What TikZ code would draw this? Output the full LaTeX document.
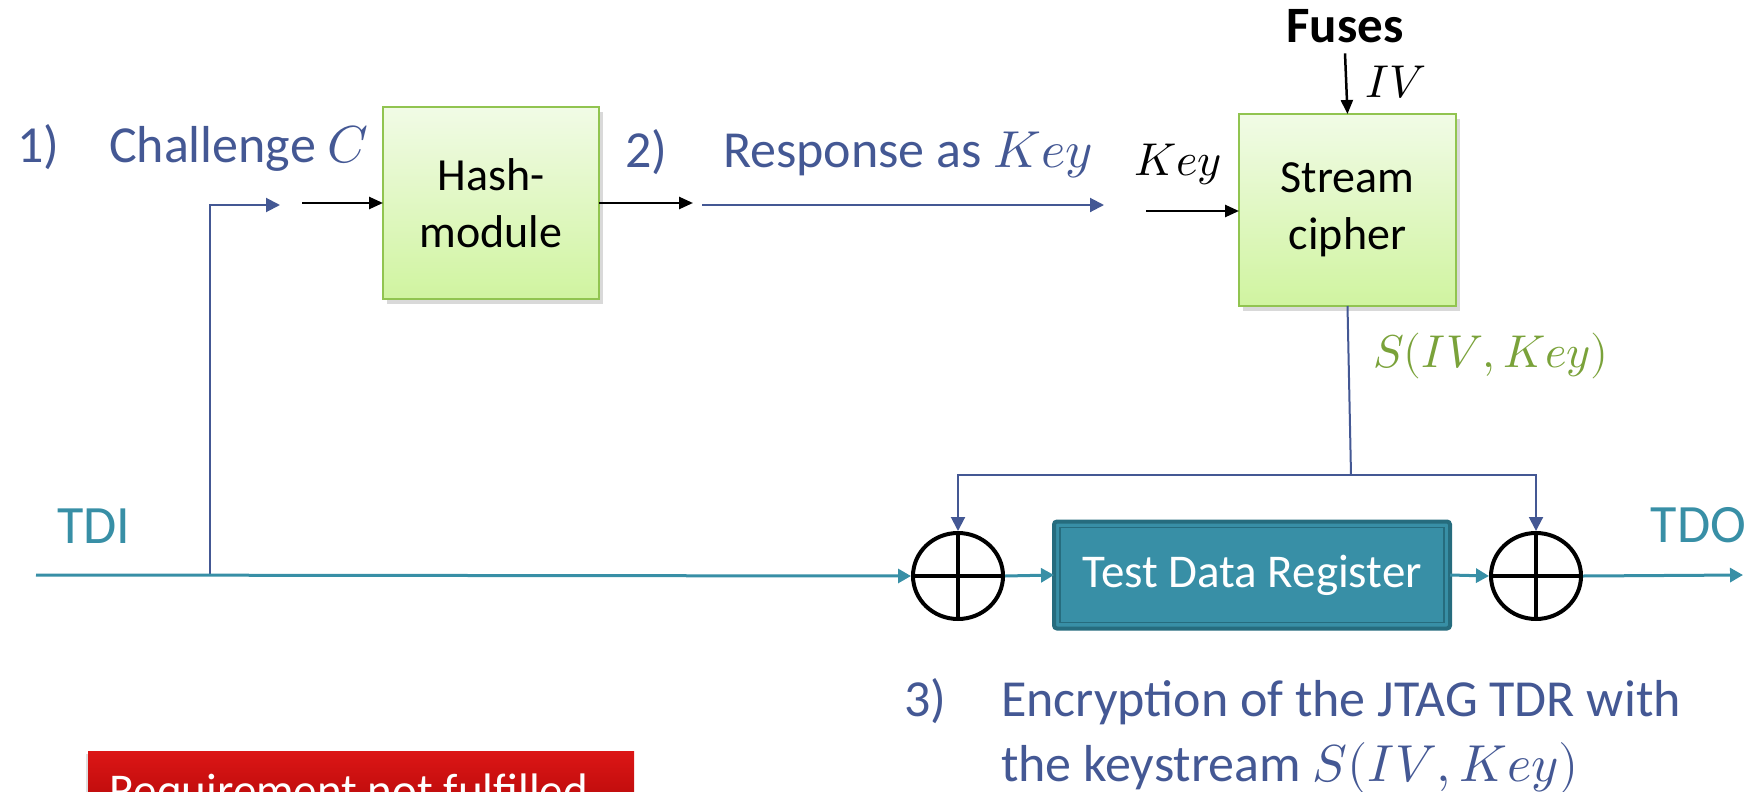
\documentclass[tikz,border=0pt]{standalone}
\usepackage{fontspec}
\usepackage{unicode-math}
\setmainfont{Carlito}
\setmathfont{Latin Modern Math}
\usetikzlibrary{arrows.meta,shapes.geometric,shadows}
\definecolor{tblue}{RGB}{68,88,148}
\definecolor{tealc}{RGB}{56,143,166}
\definecolor{tdrborder}{RGB}{38,108,126}
\definecolor{sgreen}{RGB}{122,162,58}
\definecolor{boxtop}{RGB}{241,251,230}
\definecolor{boxbot}{RGB}{208,244,160}
\definecolor{boxline}{RGB}{145,196,80}
\definecolor{redtop}{RGB}{220,22,22}
\definecolor{redbot}{RGB}{170,5,5}
\begin{document}
\begin{tikzpicture}[x=1pt,y=-1pt,
  every node/.style={inner sep=0pt, outer sep=0pt},
  lbl/.style={font=\fontsize{52}{62}\selectfont, text=tblue, anchor=base west},
  mlbl/.style={font=\fontsize{46}{55}\selectfont, anchor=base},
  gbox/.style={draw=boxline, line width=2pt, top color=boxtop, bottom color=boxbot,
    align=center, font=\fontsize{46}{57}\selectfont,
    drop shadow={opacity=0.3,shadow xshift=4pt,shadow yshift=-5pt}},
  xor/.style={ellipse, draw=black, line width=4pt, minimum width=90pt, minimum height=86pt, outer sep=2pt},
  blk/.style={draw=black, line width=2.5pt, -{Triangle[length=14pt,width=12pt]}},
  bl/.style={draw=tblue, line width=2pt, -{Triangle[length=14pt,width=14pt]}},
  tl/.style={draw=tealc, line width=3pt, -{Triangle[length=13pt,width=14pt]}},
  sline/.style={draw=tblue, line width=2pt},
]
\useasboundingbox (0,0) rectangle (1761,792);

% top blocks
\node[gbox, minimum width=216pt, minimum height=192pt] (hash) at (491,203) {Hash-\\module};
\node[gbox, minimum width=217pt, minimum height=192pt] (stream) at (1347.5,210) {Stream\\cipher};

% labels
\node[lbl] (n1) at (17,162) {1)};
\node[lbl] (chal) at (109,162) {Challenge $C$};
\node[lbl] (n2) at (625,167) {2)};
\node[lbl] (resp) at (723,167) {Response as $Key$};
\node[font=\bfseries\fontsize{51}{60}\selectfont, anchor=base] (fuses) at (1345,43) {Fuses};
\node[mlbl] (iv) at (1396,97) {$IV$};
\node[mlbl] (keylbl) at (1178,175) {$Key$};
\node[mlbl, text=sgreen, anchor=base west] (slbl) at (1373,367) {$S(IV,Key)$};

% top connectors
\coordinate (hi) at (302,203);
\coordinate (ho) at (693,203);
\coordinate (ra) at (702,205);
\coordinate (rb) at (1104,205);
\coordinate (keyin) at (1146,211);
\coordinate (le) at (280,205);
\coordinate (tap) at (210,575);
\draw[blk] (hi) -- (hash.west);
\draw[blk] (hash.east) -- (ho);
\draw[bl] (ra) -- (rb);
\draw[blk] (keyin) -- (keyin -| stream.west);
\draw[blk] ([yshift=-10pt]fuses.south) -- (stream.north);
\draw[sline, -{Triangle[length=14pt,width=14pt]}] (tap) |- (le);

% bottom chain
\node[xor] (xorA) at (958,576) {};
\node[xor] (xorB) at (1536,576) {};
\draw[line width=4pt] (xorA.north) -- (xorA.south) (xorA.west) -- (xorA.east);
\draw[line width=4pt] (xorB.north) -- (xorB.south) (xorB.west) -- (xorB.east);
\node[fill=tealc, draw=tdrborder, line width=4pt, rounded corners=3pt,
  minimum width=396pt, minimum height=107pt, text=white,
  font=\fontsize{47}{56}\selectfont] (tdr) at (1252,575) {Test Data Register};
\draw[tdrborder, line width=1.5pt] ([shift={(6pt,-6pt)}]tdr.north west) rectangle ([shift={(-6pt,6pt)}]tdr.south east);

\node[font=\fontsize{54}{62}\selectfont, text=tealc, anchor=base west] (tdi) at (57,543) {TDI};
\node[font=\fontsize{54}{62}\selectfont, text=tealc, anchor=base east] (tdo) at (1746,542) {TDO};

\coordinate (tdis) at (36,575);
\coordinate (tdoe) at (1743,575);
\draw[tl] (tdis) -- (xorA.west);
\draw[tl] (xorA.east) -- (tdr.west);
\draw[tl] (tdr.east) -- (xorB.west);
\draw[tl] (xorB.east) -- (tdoe);

% keystream distribution
\coordinate (sj) at (1351,475);
\draw[sline] (stream.south) -- (sj);
\draw[bl] (sj) -| (xorA.north);
\draw[bl] (sj) -| (xorB.north);

% item 3
\node[lbl] (n3) at (904,716) {3)};
\node[lbl] (enc1) at (1001,716) {Encryption of the JTAG TDR with};
\node[lbl] (enc2) at (1001,781) {the keystream $S(IV,Key)$};

% red box (cut off at the bottom edge, as in the reference)
\begin{scope}
\clip (0,0) rectangle (1761,792);
\node[anchor=north west, minimum width=546pt, minimum height=80pt,
  top color=redtop, bottom color=redbot,
  drop shadow={opacity=0.25,shadow xshift=-2pt,shadow yshift=-3pt}] (req) at (88,751) {};
\node[anchor=base west, text=white, font=\fontsize{47}{56}\selectfont] (reqt) at (109,806) {Requirement not fulfilled};
\end{scope}
\end{tikzpicture}
\end{document}
